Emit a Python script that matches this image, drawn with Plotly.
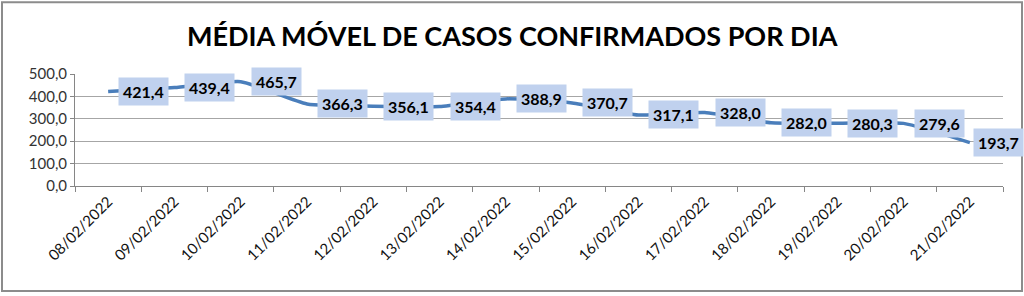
import plotly.graph_objects as go

dates = ["08/02/2022", "09/02/2022", "10/02/2022", "11/02/2022", "12/02/2022",
         "13/02/2022", "14/02/2022", "15/02/2022", "16/02/2022", "17/02/2022",
         "18/02/2022", "19/02/2022", "20/02/2022", "21/02/2022"]
media_movel = [421.4, 439.4, 465.7, 366.3, 356.1, 354.4, 388.9, 370.7,
               317.1, 328.0, 282.0, 280.3, 279.6, 193.7]
y_ticks = [0, 100, 200, 300, 400, 500]
y_ticktext = ["0,0", "100,0", "200,0", "300,0", "400,0", "500,0"]
title_text = "MÉDIA MÓVEL DE CASOS CONFIRMADOS POR DIA"

W, H = 1024, 296
ML, MR, MT, MB = 75, 21, 74, 109.5
PW, PH = W - ML - MR, H - MT - MB

def px_to_paper_x(px):
    return (px - ML) / PW

def px_to_paper_y(py):
    return (H - MB - py) / PH

FONT = "Lato"

fig = go.Figure()
fig.add_trace(go.Scatter(
    x=dates, y=media_movel, mode="lines",
    line=dict(color="#4a7ebb", width=3.5, shape="spline", smoothing=0.5),
    hoverinfo="skip", showlegend=False,
))

def fmt(v):
    return f"{v:.1f}".replace(".", ",")

annotations = []
n = len(dates)
for i, (d, v) in enumerate(zip(dates, media_movel)):
    annotations.append(dict(
        x=d, y=v, xref="x", yref="y", text=f"<b>{fmt(v)}</b>",
        showarrow=False, xanchor="left", yanchor="middle",
        xshift=3 if i == n - 1 else 10,
        bgcolor="#c0d1ee", borderpad=4,
        font=dict(family=FONT, size=16, color="#000000"),
    ))

annotations.append(dict(
    x=px_to_paper_x(W / 2), y=px_to_paper_y(35), xref="paper", yref="paper",
    text="<b>" + title_text + "</b>", showarrow=False,
    xanchor="center", yanchor="middle",
    font=dict(family=FONT, size=27, color="#000000"),
))

fig.update_layout(
    width=W, height=H,
    margin=dict(l=ML, r=MR, t=MT, b=MB),
    paper_bgcolor="white", plot_bgcolor="white",
    annotations=annotations,
    shapes=[dict(
        type="rect", xref="paper", yref="paper",
        x0=px_to_paper_x(2), x1=px_to_paper_x(1022),
        y0=px_to_paper_y(292), y1=px_to_paper_y(2),
        line=dict(color="#8c8c8c", width=2), fillcolor="rgba(0,0,0,0)",
        layer="below",
    )],
    xaxis=dict(
        type="category", range=[-0.5, n - 0.5],
        tickson="boundaries", ticks="outside", ticklen=5, tickcolor="#868686",
        showline=True, linecolor="#868686", linewidth=1,
        showgrid=False, tickangle=-45,
        tickfont=dict(family=FONT, size=15, color="#111111"),
    ),
    yaxis=dict(
        range=[0, 500], tickvals=y_ticks, ticktext=y_ticktext,
        ticks="outside", ticklen=4, tickcolor="#868686",
        showline=True, linecolor="#868686", linewidth=1,
        showgrid=True, gridcolor="#a6a6a6", gridwidth=1,
        zeroline=False,
        tickfont=dict(family=FONT, size=15, color="#333333"),
    ),
)

fig.write_html("out.html")
